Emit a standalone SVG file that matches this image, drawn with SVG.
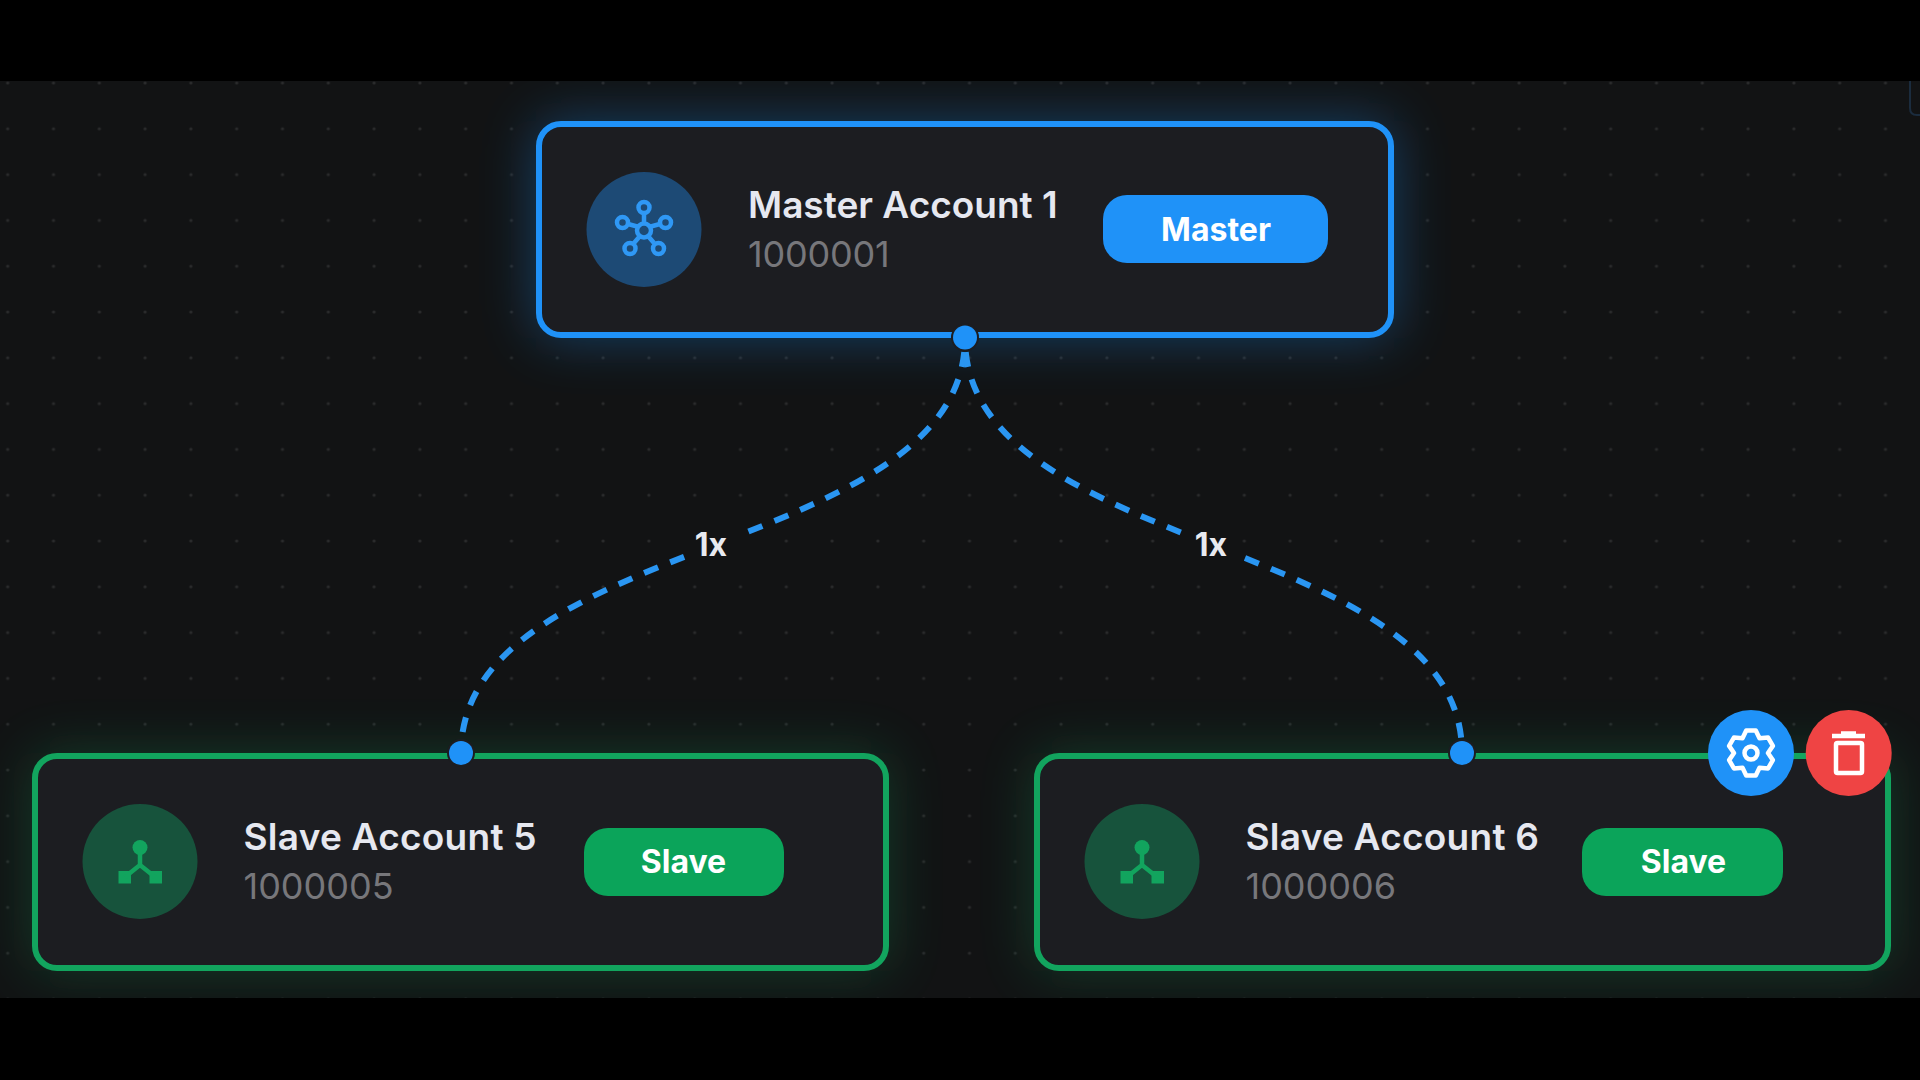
<svg xmlns="http://www.w3.org/2000/svg" width="1920" height="1080" viewBox="0 0 1920 1080">
<style>
text{font-family:Inter,"Liberation Sans",sans-serif}
.card{fill:#1c1d21;stroke-width:6}
.title{font-size:37px;font-weight:600;fill:#e6e8f0}
.sl{letter-spacing:.25px}
.num{font-size:36px;font-weight:400;fill:#77777b}
.btn{font-size:32px;font-weight:700;fill:#fff;text-anchor:middle}
.lbl{font-size:32px;font-weight:700;fill:#e8eaf0;text-anchor:middle}
.edge{fill:none;stroke:#2a96f2;stroke-width:6;stroke-dasharray:15 13;stroke-dashoffset:14}
.blue{stroke:#1f92f8}.green{stroke:#12a45e}
.ic{fill:none;stroke-width:4.500}
.wh{fill:none;stroke:#fff;stroke-width:4.500;stroke-linejoin:round}
</style>
<defs>
<pattern id="dots" x="7.7" y="37.2" width="45.8" height="45.8" patternUnits="userSpaceOnUse"><circle cx="0" cy="0" r="1.6" fill="#2a2b2c"/><circle cx="45.8" cy="0" r="1.6" fill="#2a2b2c"/><circle cx="0" cy="45.8" r="1.6" fill="#2a2b2c"/><circle cx="45.8" cy="45.8" r="1.6" fill="#2a2b2c"/></pattern>
<filter id="glow" x="-20%" y="-60%" width="140%" height="220%"><feGaussianBlur stdDeviation="27"/></filter>
<clipPath id="cv"><rect x="0" y="81" width="1920" height="917"/></clipPath>
</defs>
<rect width="1920" height="1080" fill="#000"/>
<g clip-path="url(#cv)">
<rect x="0" y="81" width="1920" height="917" fill="#121314"/>
<rect x="0" y="81" width="1920" height="917" fill="url(#dots)"/>
<path d="M1910 81V108Q1910 115 1917 115H1920" fill="none" stroke="#1b2c3e" stroke-width="2"/>
<rect x="536" y="121" width="858" height="217" rx="20" fill="#1f92f8" opacity=".36" filter="url(#glow)"/>
<rect x="32" y="753" width="857" height="218" rx="20" fill="#12a45e" opacity=".28" filter="url(#glow)"/>
<rect x="1034" y="753" width="857" height="218" rx="20" fill="#12a45e" opacity=".28" filter="url(#glow)"/>
</g>
<g id="connectors">
<path class="edge" d="M965 338C965 556 461 535 461 753"/>
<path class="edge" d="M965 338C965 556 1462 535 1462 753"/>
<g id="label-1"><rect x="686" y="524" width="58" height="40" fill="#121314"/><text class="lbl" x="711" y="556">1x</text></g>
<g id="label-2"><rect x="1183" y="524" width="58" height="40" fill="#121314"/><text class="lbl" x="1211" y="556">1x</text></g>
</g>
<g id="master-1">
<rect class="card blue" x="539" y="124" width="852" height="211" rx="22"/>
<circle cx="644" cy="229.5" r="57.500" fill="#1d4a75"/>
<g class="ic" stroke="#2f98f5">
<path d="M644 224V214M639 227L628 224M649 227L660 224M640 236L634 243M648 236L654 243"/>
<circle cx="644" cy="230.5" r="7"/><circle cx="644" cy="207.5" r="5.5"/><circle cx="622.5" cy="222.5" r="5.5"/><circle cx="665.5" cy="222.5" r="5.5"/><circle cx="630" cy="248.5" r="5.5"/><circle cx="658.5" cy="248.5" r="5.5"/>
</g>
<text class="title" x="748" y="218">Master Account 1</text>
<text class="num" x="748" y="267" letter-spacing="-.2">1000001</text>
<rect x="1103" y="195" width="225" height="68" rx="24" fill="#1f92f8"/>
<text class="btn" x="1216" y="241">Master</text>
<circle cx="965" cy="337.5" r="14" fill="#1c1d21"/><circle cx="965" cy="337.5" r="12" fill="#1f92f8"/>
</g>
<g id="slave-5">
<rect class="card green" x="35" y="756" width="851" height="212" rx="22"/>
<circle cx="140" cy="861.5" r="57.500" fill="#17533c"/>
<g fill="#12a45e"><circle cx="140" cy="847.5" r="7.500"/><rect x="118.5" y="871" width="12.5" height="12.5"/><rect x="149.5" y="871" width="12.5" height="12.5"/><path d="M140 850V865L125 877M140 865L155 877" fill="none" stroke="#12a45e" stroke-width="4.500"/></g>
<text class="title sl" x="243.5" y="850">Slave Account 5</text>
<text class="num" x="243.5" y="899">1000005</text>
<rect x="584" y="828" width="200" height="68" rx="24" fill="#0ba45a"/>
<text class="btn" x="683.5" y="873">Slave</text>
<circle cx="461" cy="753" r="14" fill="#1c1d21"/><circle cx="461" cy="753" r="12" fill="#1f92f8"/>
</g>
<g id="slave-6">
<rect class="card green" x="1037" y="756" width="851" height="212" rx="22"/>
<circle cx="1142" cy="861.5" r="57.500" fill="#17533c"/>
<g fill="#12a45e"><circle cx="1142" cy="847.5" r="7.500"/><rect x="1120.5" y="871" width="12.5" height="12.5"/><rect x="1151.5" y="871" width="12.5" height="12.5"/><path d="M1142 850V865L1127 877M1142 865L1157 877" fill="none" stroke="#12a45e" stroke-width="4.500"/></g>
<text class="title sl" x="1245.5" y="850">Slave Account 6</text>
<text class="num" x="1245.5" y="899">1000006</text>
<rect x="1582" y="828" width="201" height="68" rx="24" fill="#0ba45a"/>
<text class="btn" x="1683.5" y="873">Slave</text>
<circle cx="1462" cy="753" r="14" fill="#1c1d21"/><circle cx="1462" cy="753" r="12" fill="#1f92f8"/>
</g>
<g id="settings-button" transform="translate(1751 753)">
<circle r="43" fill="#1f92f8"/>
<path class="wh" d="M-4.78-22.5L4.78-22.5L8.5-14.72L17.09-15.39L21.87-7.11L17 0L21.87 7.11L17.09 15.39L8.5 14.72L4.78 22.5L-4.78 22.5L-8.5 14.72L-17.09 15.39L-21.87 7.11L-17 0L-21.87-7.11L-17.09-15.39L-8.5-14.72Z"/>
<circle class="wh" r="6.5"/>
</g>
<g id="delete-button">
<circle cx="1848.7" cy="753" r="43" fill="#ef4444"/>
<path class="wh" d="M1832 736H1865M1841 733.500H1856"/>
<rect class="wh" x="1836" y="743" width="26" height="30" rx="1.500"/>
</g>
</svg>
